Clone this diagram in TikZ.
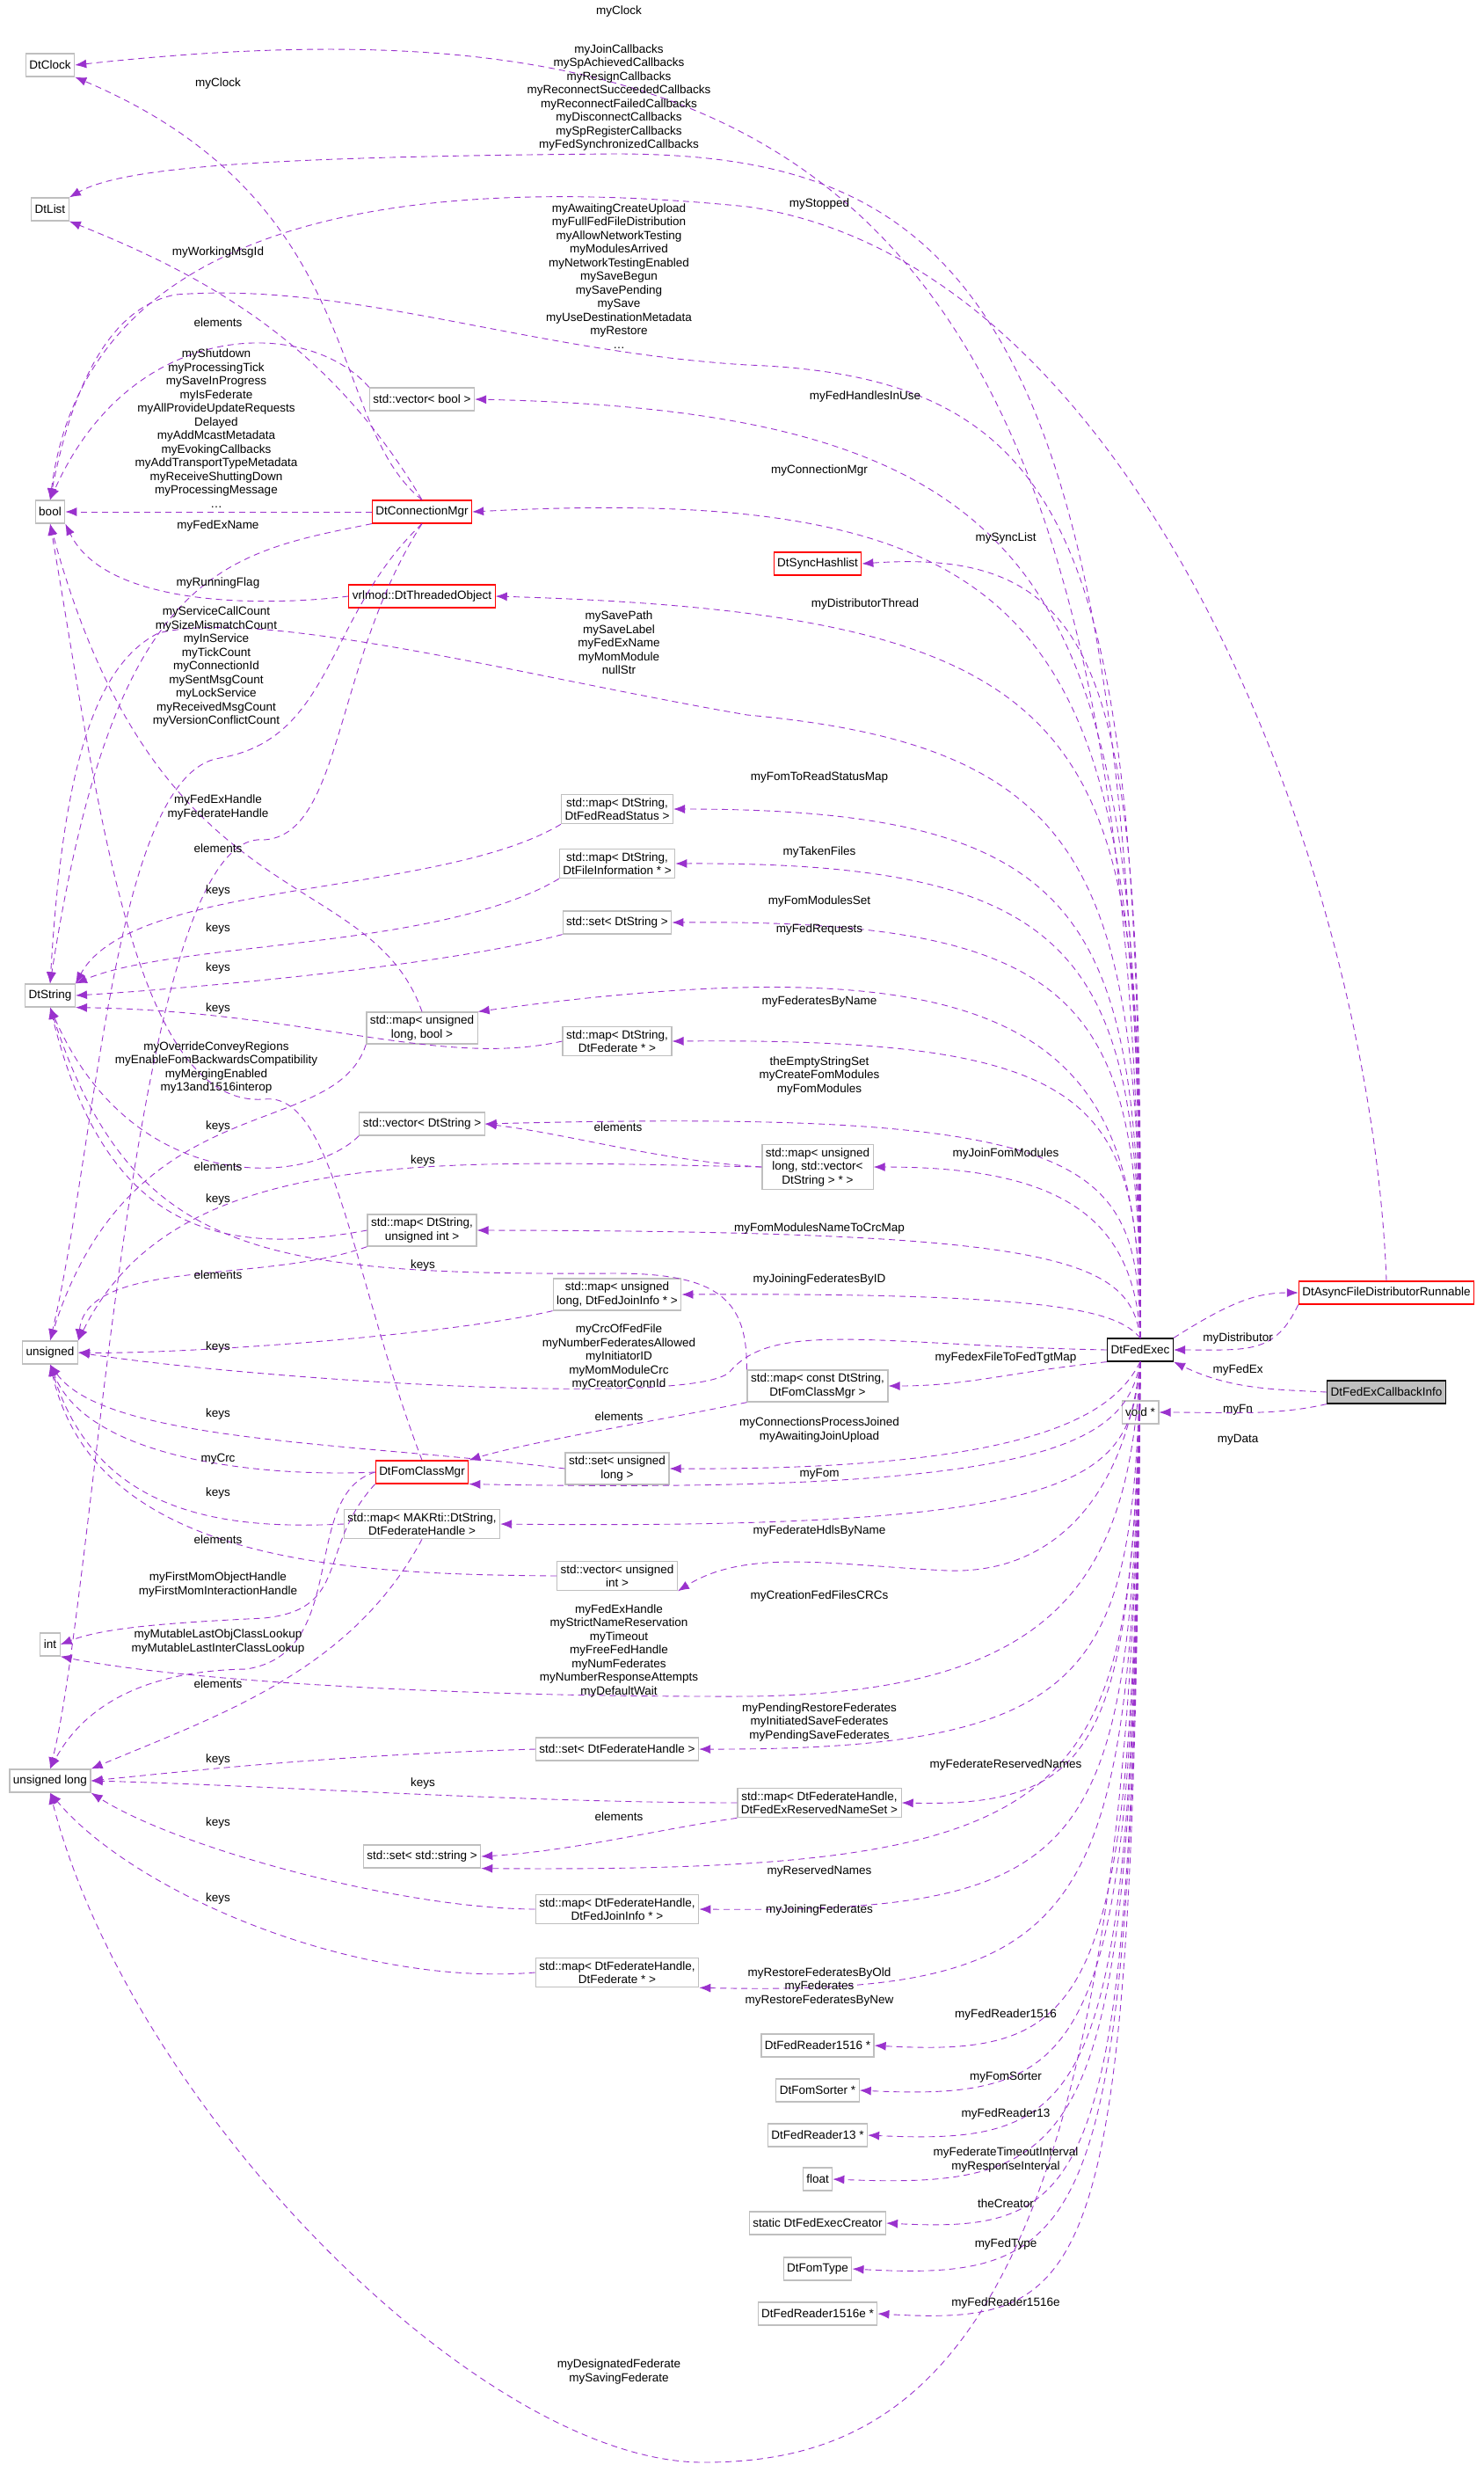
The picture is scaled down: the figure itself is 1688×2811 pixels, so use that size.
\documentclass[tikz,border=0pt]{standalone}
\usepackage{fontspec}
\setmainfont{Liberation Sans}
\usetikzlibrary{arrows.meta}
\definecolor{edgecol}{HTML}{9A32CD}
\definecolor{boxgray}{HTML}{BFBFBF}
\begin{document}
\begin{tikzpicture}[x=1pt,y=-1pt,
    font=\fontsize{13.5}{15.5}\selectfont,
    cls/.style={draw=boxgray,line width=1.2pt,fill=white,align=center,inner sep=4pt,minimum height=26pt},
    redcls/.style={cls,draw=red},
    main/.style={cls,draw=black},
    focus/.style={cls,draw=black,fill=boxgray},
    lbl/.style={align=center,inner sep=0pt},
    edge/.style={draw=edgecol,line width=0.9pt,dash pattern=on 7pt off 5pt,-{Latex[length=13pt,width=10pt]}}]
  \useasboundingbox (0,0) rectangle (1688,2811);

  % left column
  \node[cls] (dtclock) at (57,74) {DtClock};
  \node[cls] (dtlist) at (57,238) {DtList};
  \node[cls] (bool) at (57,582) {bool};
  \node[cls] (dtstring) at (57,1132) {DtString};
  \node[cls] (unsigned) at (57,1538) {unsigned};
  \node[cls] (int) at (57,1870) {int};
  \node[cls] (ulong) at (57,2025) {unsigned long};

  % middle
  \node[cls] (vb) at (480,454) {std::vector< bool >};
  \node[redcls] (dtcm) at (480,582) {DtConnectionMgr};
  \node[redcls] (dto) at (480,678) {vrlmod::DtThreadedObject};
  \node[redcls] (sync) at (930,641) {DtSyncHashlist};
  \node[cls] (mdrs) at (702,920) {std::map< DtString,\\ DtFedReadStatus >};
  \node[cls] (mdfi) at (702,982) {std::map< DtString,\\ DtFileInformation * >};
  \node[cls] (sds) at (702,1049) {std::set< DtString >};
  \node[cls] (mulb) at (480,1169) {std::map< unsigned\\ long, bool >};
  \node[cls] (mdf) at (702,1184) {std::map< DtString,\\ DtFederate * >};
  \node[cls] (vds) at (480,1278) {std::vector< DtString >};
  \node[cls] (mulvds) at (930,1327) {std::map< unsigned\\ long, std::vector<\\ DtString > * >};
  \node[cls] (mdui) at (480,1399) {std::map< DtString,\\ unsigned int >};
  \node[cls] (muljf) at (702,1472) {std::map< unsigned\\ long, DtFedJoinInfo * >};
  \node[cls] (mcdfcm) at (930,1576) {std::map< const DtString,\\ DtFomClassMgr >};
  \node[cls] (sul) at (702,1670) {std::set< unsigned\\ long >};
  \node[redcls] (dtfcm) at (480,1674) {DtFomClassMgr};
  \node[cls] (mmdfh) at (480,1733) {std::map< MAKRti::DtString,\\ DtFederateHandle >};
  \node[cls] (vui) at (702,1792) {std::vector< unsigned\\ int >};
  \node[cls] (ssdfh) at (702,1989) {std::set< DtFederateHandle >};
  \node[cls] (mdfrn) at (932,2050) {std::map< DtFederateHandle,\\ DtFedExReservedNameSet >};
  \node[cls] (sss) at (480,2111) {std::set< std::string >};
  \node[cls] (mdfj) at (702,2171) {std::map< DtFederateHandle,\\ DtFedJoinInfo * >};
  \node[cls] (mdfd) at (702,2243) {std::map< DtFederateHandle,\\ DtFederate * >};
  \node[cls] (fr1516) at (930,2326) {DtFedReader1516 *};
  \node[cls] (fs) at (930,2377) {DtFomSorter *};
  \node[cls] (fr13) at (930,2428) {DtFedReader13 *};
  \node[cls] (float) at (930,2478) {float};
  \node[cls] (sdfc) at (930,2528) {static DtFedExecCreator};
  \node[cls] (fomtype) at (930,2580) {DtFomType};
  \node[cls] (fr1516e) at (930,2631) {DtFedReader1516e *};

  % right
  \node[main] (fe) at (1297,1535) {DtFedExec};
  \node[redcls] (das) at (1577,1470) {DtAsyncFileDistributorRunnable};
  \node[focus] (cb) at (1577,1583) {DtFedExCallbackInfo};
  \node[cls] (void) at (1297,1606) {void *};

  % DtFedExec members above
  \draw[edge] (fe.north) .. controls (1300,250) and (950,-20) .. (dtclock.east);
  \draw[edge] (fe.north) .. controls (1300,350) and (1100,175) .. (700,175) .. controls (300,178) and (140,190) .. (dtlist.north east);
  \draw[edge] (fe.north) .. controls (1300,650) and (1250,430) .. (850,415) .. controls (600,400) and (400,320) .. (200,335) .. controls (120,350) and (80,450) .. (bool.north);
  \draw[edge] (fe.north) .. controls (1300,700) and (1250,470) .. (vb.east);
  \draw[edge] (fe.north) .. controls (1300,750) and (1250,545) .. (dtcm.east);
  \draw[edge] (fe.north) .. controls (1300,800) and (1280,620) .. (sync.east);
  \draw[edge] (fe.north) .. controls (1300,850) and (1300,700) .. (dto.east);
  \draw[edge] (fe.north) .. controls (1300,1000) and (1250,850) .. (850,813) .. controls (600,770) and (300,690) .. (180,720) .. controls (100,760) and (70,900) .. (dtstring.north);
  \draw[edge] (fe.north) .. controls (1298,1050) and (1250,920) .. (mdrs.east);
  \draw[edge] (fe.north) .. controls (1298,1100) and (1250,980) .. (mdfi.east);
  \draw[edge] (fe.north) .. controls (1298,1150) and (1250,1045) .. (sds.east);
  \draw[edge] (fe.north) .. controls (1298,1200) and (1200,1060) .. (mulb.north east);
  \draw[edge] (fe.north) .. controls (1296,1250) and (1250,1180) .. (mdf.east);
  \draw[edge] (fe.north) .. controls (1294,1320) and (1250,1260) .. (vds.east);
  \draw[edge] (fe.north) .. controls (1290,1380) and (1200,1327) .. (mulvds.east);
  \draw[edge] (fe.north) .. controls (1285,1430) and (1200,1400) .. (mdui.east);
  \draw[edge] (fe.north) .. controls (1270,1490) and (1200,1470) .. (muljf.east);
  \draw[edge] (fe.west) .. controls (1000,1530) and (880,1500) .. (830,1560) .. controls (790,1600) and (300,1570) .. (unsigned.east);
  \draw[edge] (fe.south west) .. controls (1150,1560) and (1100,1576) .. (mcdfcm.east);

  % DtFedExec members below
  \draw[edge] (fe.south) .. controls (1270,1600) and (1200,1672) .. (sul.east);
  \draw[edge] (fe.south) .. controls (1280,1640) and (1200,1700) .. (dtfcm.south east);
  \draw[edge] (fe.south) .. controls (1285,1680) and (1250,1740) .. (mmdfh.east);
  \draw[edge] (fe.south) .. controls (1280,1700) and (1200,1790) .. (1078,1786) .. controls (950,1780) and (850,1760) .. (vui.south east);
  \draw[edge] (fe.south) .. controls (1285,1800) and (1200,1925) .. (850,1929) .. controls (500,1930) and (200,1910) .. (int.south east);
  \draw[edge] (fe.south) .. controls (1288,1900) and (1250,1990) .. (ssdfh.east);
  \draw[edge] (fe.south) .. controls (1288,1980) and (1250,2055) .. (mdfrn.east);
  \draw[edge] (fe.south) .. controls (1288,2050) and (1250,2130) .. (sss.south east);
  \draw[edge] (fe.south) .. controls (1288,2110) and (1250,2175) .. (mdfj.east);
  \draw[edge] (fe.south) .. controls (1288,2180) and (1250,2270) .. (mdfd.south east);
  \draw[edge] (fe.south) .. controls (1290,2280) and (1250,2340) .. (fr1516.east);
  \draw[edge] (fe.south) .. controls (1290,2330) and (1250,2390) .. (fs.east);
  \draw[edge] (fe.south) .. controls (1290,2390) and (1250,2440) .. (fr13.east);
  \draw[edge] (fe.south) .. controls (1290,2440) and (1250,2490) .. (float.east);
  \draw[edge] (fe.south) .. controls (1290,2490) and (1250,2540) .. (sdfc.east);
  \draw[edge] (fe.south) .. controls (1290,2540) and (1250,2595) .. (fomtype.east);
  \draw[edge] (fe.south) .. controls (1290,2600) and (1250,2645) .. (fr1516e.east);
  \draw[edge] (fe.south) .. controls (1290,2650) and (1050,2800) .. (800,2800) .. controls (550,2800) and (150,2400) .. (ulong.south);

  % right side
  \draw[edge] (fe.north east) .. controls (1400,1480) and (1430,1470) .. (das.west);
  \draw[edge] (das.south west) .. controls (1450,1540) and (1420,1535) .. (fe.east);
  \draw[edge] (das.north) .. controls (1560,1000) and (1300,300) .. (850,235) .. controls (500,200) and (100,230) .. (bool.north);
  \draw[edge] (cb.west) .. controls (1450,1580) and (1400,1580) .. (fe.south east);
  \draw[edge] (cb.south west) .. controls (1450,1610) and (1400,1606) .. (void.east);

  % DtConnectionMgr and others
  \draw[edge] (dtcm.north) .. controls (370,480) and (420,230) .. (dtclock.south east);
  \draw[edge] (dtcm.north) .. controls (380,400) and (250,320) .. (dtlist.south east);
  \draw[edge] (vb.north west) .. controls (350,360) and (150,360) .. (bool.north);
  \draw[edge] (dtcm.west) -- (bool.east);
  \draw[edge] (dtcm.south west) .. controls (250,630) and (130,650) .. (dtstring.north);
  \draw[edge] (dto.west) .. controls (300,690) and (120,690) .. (bool.south east);
  \draw[edge] (dtcm.south) .. controls (370,700) and (380,840) .. (250,862) .. controls (130,880) and (110,1300) .. (unsigned.north);
  \draw[edge] (dtcm.south) .. controls (380,750) and (390,950) .. (300,955) .. controls (150,940) and (110,1800) .. (ulong.north);
  \draw[edge] (mdrs.south west) .. controls (500,1020) and (150,1000) .. (dtstring.north east);
  \draw[edge] (mdfi.south west) .. controls (500,1080) and (200,1070) .. (dtstring.north east);
  \draw[edge] (sds.south west) .. controls (500,1100) and (200,1125) .. (dtstring.east);
  \draw[edge] (mdf.west) .. controls (500,1215) and (350,1150) .. (dtstring.south east);
  \draw[edge] (mulb.north) .. controls (420,980) and (180,1050) .. (bool.south);
  \draw[edge] (mulb.south west) .. controls (380,1300) and (150,1230) .. (unsigned.north);
  \draw[edge] (vds.south west) .. controls (350,1350) and (150,1360) .. (dtstring.south);
  \draw[edge] (mulvds.west) .. controls (750,1320) and (650,1290) .. (vds.east);
  \draw[edge] (mulvds.west) .. controls (500,1320) and (200,1300) .. (unsigned.north east);
  \draw[edge] (mdui.west) .. controls (250,1430) and (120,1400) .. (dtstring.south);
  \draw[edge] (mdui.south west) .. controls (300,1460) and (100,1430) .. (unsigned.north east);
  \draw[edge] (muljf.south west) .. controls (500,1520) and (200,1540) .. (unsigned.east);
  \draw[edge] (mcdfcm.north west) .. controls (850,1480) and (820,1448) .. (700,1448) .. controls (300,1450) and (150,1430) .. (dtstring.south);
  \draw[edge] (mcdfcm.south west) .. controls (750,1615) and (600,1640) .. (dtfcm.north east);
  \draw[edge] (sul.west) .. controls (400,1640) and (120,1640) .. (unsigned.south);
  \draw[edge] (dtfcm.west) .. controls (300,1680) and (100,1660) .. (unsigned.south);
  \draw[edge] (mmdfh.west) .. controls (250,1740) and (110,1720) .. (unsigned.south);
  \draw[edge] (vui.west) .. controls (400,1790) and (110,1780) .. (unsigned.south);
  \draw[edge] (dtfcm.north) .. controls (400,1450) and (380,1240) .. (300,1250) .. controls (150,1260) and (110,900) .. (bool.south);
  \draw[edge] (dtfcm.south west) .. controls (360,1760) and (400,1830) .. (300,1840) .. controls (200,1845) and (120,1850) .. (int.east);
  \draw[edge] (dtfcm.west) .. controls (340,1700) and (400,1880) .. (280,1898) .. controls (150,1900) and (90,1950) .. (ulong.north);
  \draw[edge] (mmdfh.south) .. controls (400,1900) and (250,1950) .. (ulong.north east);
  \draw[edge] (ssdfh.west) .. controls (400,1995) and (250,2010) .. (ulong.east);
  \draw[edge] (mdfrn.west) .. controls (600,2050) and (300,2030) .. (ulong.east);
  \draw[edge] (mdfrn.south west) .. controls (750,2080) and (650,2105) .. (sss.east);
  \draw[edge] (mdfj.west) .. controls (450,2170) and (200,2100) .. (ulong.south east);
  \draw[edge] (mdfd.west) .. controls (400,2260) and (150,2150) .. (ulong.south);

  % labels
  \node[lbl] (l1) at (704,13) {myClock};
  \node[lbl] (l2) at (704,111) {myJoinCallbacks\\ mySpAchievedCallbacks\\ myResignCallbacks\\ myReconnectSucceededCallbacks\\ myReconnectFailedCallbacks\\ myDisconnectCallbacks\\ mySpRegisterCallbacks\\ myFedSynchronizedCallbacks};
  \node[lbl] (l3) at (932,232) {myStopped};
  \node[lbl] (l4) at (248,95) {myClock};
  \node[lbl] (l5) at (248,287) {myWorkingMsgId};
  \node[lbl] (l6) at (704,314) {myAwaitingCreateUpload\\ myFullFedFileDistribution\\ myAllowNetworkTesting\\ myModulesArrived\\ myNetworkTestingEnabled\\ mySaveBegun\\ mySavePending\\ mySave\\ myUseDestinationMetadata\\ myRestore\\ \dots};
  \node[lbl] (l7) at (248,367) {elements};
  \node[lbl] (l8) at (984,451) {myFedHandlesInUse};
  \node[lbl] (l9) at (246,487) {myShutdown\\ myProcessingTick\\ mySaveInProgress\\ myIsFederate\\ myAllProvideUpdateRequests\\ Delayed\\ myAddMcastMetadata\\ myEvokingCallbacks\\ myAddTransportTypeMetadata\\ myReceiveShuttingDown\\ myProcessingMessage\\ \dots};
  \node[lbl] (l10) at (932,535) {myConnectionMgr};
  \node[lbl] (l11) at (248,598) {myFedExName};
  \node[lbl] (l12) at (1144,612) {mySyncList};
  \node[lbl] (l13) at (248,663) {myRunningFlag};
  \node[lbl] (l14) at (984,687) {myDistributorThread};
  \node[lbl] (l15) at (246,758) {myServiceCallCount\\ mySizeMismatchCount\\ myInService\\ myTickCount\\ myConnectionId\\ mySentMsgCount\\ myLockService\\ myReceivedMsgCount\\ myVersionConflictCount};
  \node[lbl] (l16) at (704,731) {mySavePath\\ mySaveLabel\\ myFedExName\\ myMomModule\\ nullStr};
  \node[lbl] (l17) at (932,884) {myFomToReadStatusMap};
  \node[lbl] (l18) at (248,918) {myFedExHandle\\ myFederateHandle};
  \node[lbl] (l19) at (248,965) {elements};
  \node[lbl] (l20) at (932,969) {myTakenFiles};
  \node[lbl] (l21) at (248,1013) {keys};
  \node[lbl] (l22) at (932,1025) {myFomModulesSet};
  \node[lbl] (l23) at (248,1056) {keys};
  \node[lbl] (l24) at (932,1057) {myFedRequests};
  \node[lbl] (l25) at (248,1101) {keys};
  \node[lbl] (l26) at (248,1147) {keys};
  \node[lbl] (l27) at (932,1139) {myFederatesByName};
  \node[lbl] (l28) at (246,1214) {myOverrideConveyRegions\\ myEnableFomBackwardsCompatibility\\ myMergingEnabled\\ my13and1516interop};
  \node[lbl] (l29) at (932,1223) {theEmptyStringSet\\ myCreateFomModules\\ myFomModules};
  \node[lbl] (l30) at (248,1281) {keys};
  \node[lbl] (l31) at (248,1327) {elements};
  \node[lbl] (l32) at (703,1282) {elements};
  \node[lbl] (l33) at (1144,1312) {myJoinFomModules};
  \node[lbl] (l34) at (481,1320) {keys};
  \node[lbl] (l35) at (248,1364) {keys};
  \node[lbl] (l36) at (932,1397) {myFomModulesNameToCrcMap};
  \node[lbl] (l37) at (248,1450) {elements};
  \node[lbl] (l38) at (481,1439) {keys};
  \node[lbl] (l39) at (932,1455) {myJoiningFederatesByID};
  \node[lbl] (l40) at (248,1532) {keys};
  \node[lbl] (l41) at (704,1543) {myCrcOfFedFile\\ myNumberFederatesAllowed\\ myInitiatorID\\ myMomModuleCrc\\ myCreatorConnId};
  \node[lbl] (l42) at (1144,1544) {myFedexFileToFedTgtMap};
  \node[lbl] (l43) at (704,1611) {elements};
  \node[lbl] (l44) at (932,1626) {myConnectionsProcessJoined\\ myAwaitingJoinUpload};
  \node[lbl] (l45) at (248,1608) {keys};
  \node[lbl] (l46) at (248,1659) {myCrc};
  \node[lbl] (l47) at (932,1676) {myFom};
  \node[lbl] (l48) at (248,1698) {keys};
  \node[lbl] (l49) at (248,1751) {elements};
  \node[lbl] (l50) at (932,1741) {myFederateHdlsByName};
  \node[lbl] (l51) at (248,1802) {myFirstMomObjectHandle\\ myFirstMomInteractionHandle};
  \node[lbl] (l52) at (932,1815) {myCreationFedFilesCRCs};
  \node[lbl] (l53) at (248,1867) {myMutableLastObjClassLookup\\ myMutableLastInterClassLookup};
  \node[lbl] (l54) at (704,1877) {myFedExHandle\\ myStrictNameReservation\\ myTimeout\\ myFreeFedHandle\\ myNumFederates\\ myNumberResponseAttempts\\ myDefaultWait};
  \node[lbl] (l55) at (248,1915) {elements};
  \node[lbl] (l56) at (932,1958) {myPendingRestoreFederates\\ myInitiatedSaveFederates\\ myPendingSaveFederates};
  \node[lbl] (l57) at (248,2001) {keys};
  \node[lbl] (l58) at (1144,2007) {myFederateReservedNames};
  \node[lbl] (l59) at (481,2028) {keys};
  \node[lbl] (l60) at (704,2066) {elements};
  \node[lbl] (l61) at (248,2073) {keys};
  \node[lbl] (l62) at (932,2128) {myReservedNames};
  \node[lbl] (l63) at (248,2159) {keys};
  \node[lbl] (l64) at (932,2172) {myJoiningFederates};
  \node[lbl] (l65) at (932,2259) {myRestoreFederatesByOld\\ myFederates\\ myRestoreFederatesByNew};
  \node[lbl] (l66) at (1144,2291) {myFedReader1516};
  \node[lbl] (l67) at (1144,2362) {myFomSorter};
  \node[lbl] (l68) at (1144,2404) {myFedReader13};
  \node[lbl] (l69) at (1144,2456) {myFederateTimeoutInterval\\ myResponseInterval};
  \node[lbl] (l70) at (1144,2506) {theCreator};
  \node[lbl] (l71) at (1144,2552) {myFedType};
  \node[lbl] (l72) at (1144,2619) {myFedReader1516e};
  \node[lbl] (l73) at (704,2697) {myDesignatedFederate\\ mySavingFederate};
  \node[lbl] (l74) at (1408,1522) {myDistributor};
  \node[lbl] (l75) at (1408,1558) {myFedEx};
  \node[lbl] (l76) at (1408,1603) {myFn};
  \node[lbl] (l77) at (1408,1637) {myData};
\end{tikzpicture}
\end{document}
